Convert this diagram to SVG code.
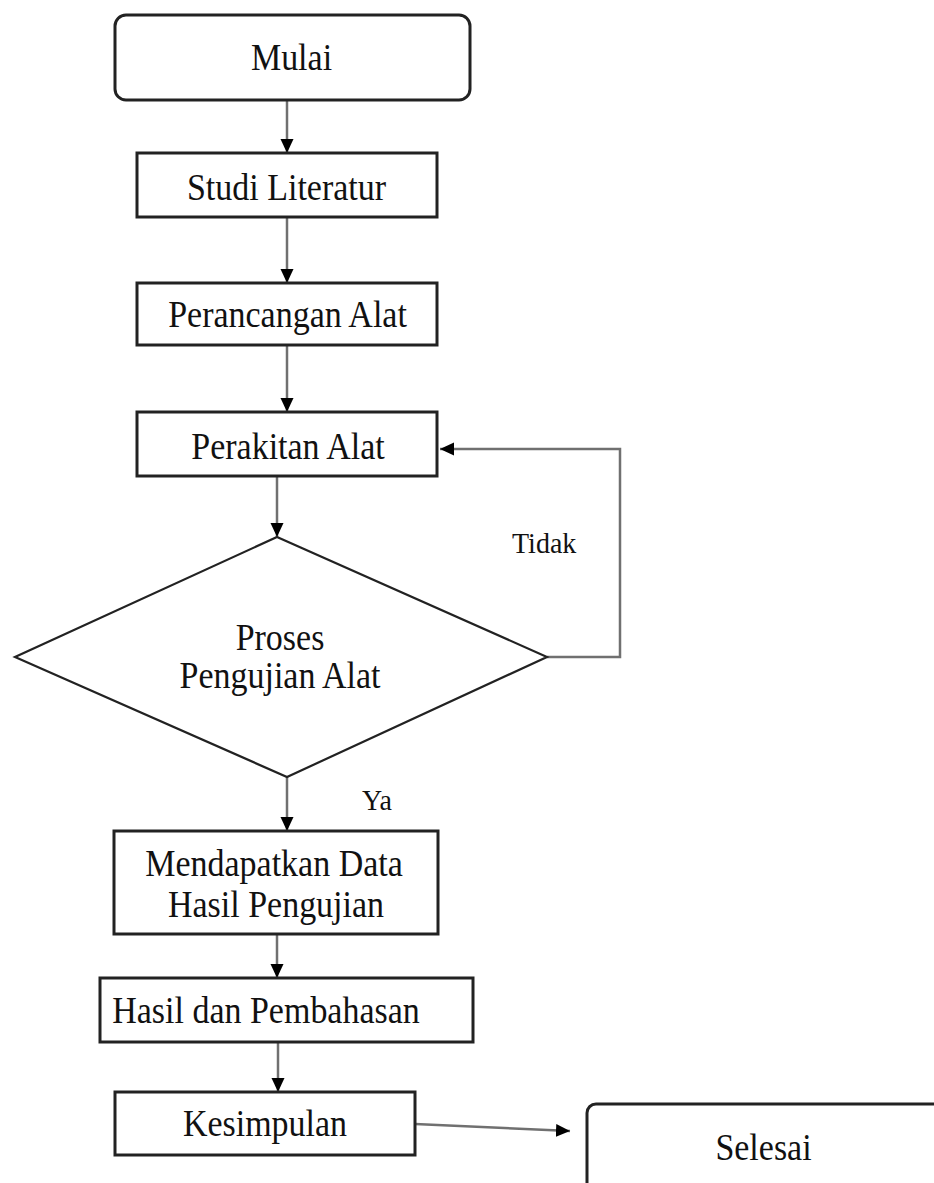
<svg xmlns="http://www.w3.org/2000/svg" width="934" height="1183" viewBox="0 0 934 1183">
<style>
.box{fill:#fff;stroke:#222;stroke-width:3}
.dia{fill:#fff;stroke:#222;stroke-width:2.2}
.t{font-family:"Liberation Serif","Times New Roman",serif;font-size:34px;fill:#111;text-anchor:middle}
.lbl{font-family:"Liberation Serif","Times New Roman",serif;font-size:28px;fill:#111}
.c{fill:none;stroke:#707070;stroke-width:2.5}
</style>
<defs>
<marker id="ah" markerUnits="userSpaceOnUse" markerWidth="16" markerHeight="16" viewBox="0 0 16 16" refX="14" refY="8" orient="auto">
<path d="M0,1.5 L14,8 L0,14.5 Z" fill="#000"/>
</marker>
</defs>
<rect width="934" height="1183" fill="#fff"/>
<g id="connectors">
<line class="c" x1="287" y1="100" x2="287" y2="153" marker-end="url(#ah)"/>
<line class="c" x1="287" y1="217" x2="287" y2="283" marker-end="url(#ah)"/>
<line class="c" x1="287" y1="345" x2="287" y2="412" marker-end="url(#ah)"/>
<line class="c" x1="277" y1="476" x2="277" y2="537" marker-end="url(#ah)"/>
<line class="c" x1="287" y1="777" x2="287" y2="831" marker-end="url(#ah)"/>
<line class="c" x1="277" y1="934" x2="277" y2="978" marker-end="url(#ah)"/>
<line class="c" x1="278" y1="1042" x2="278" y2="1092" marker-end="url(#ah)"/>
<line class="c" x1="415" y1="1124" x2="570" y2="1131" marker-end="url(#ah)"/>
<polyline class="c" points="547,657 620,657 620,449 440,449" marker-end="url(#ah)"/>
</g>
<g id="mulai">
<rect class="box" x="115" y="15" width="355" height="85" rx="11"/>
<text class="t" transform="translate(291.5,70) scale(1,1.12)">Mulai</text>
</g>
<g id="studi">
<rect class="box" x="137" y="153" width="300" height="64"/>
<text class="t" transform="translate(286.5,200) scale(1,1.12)">Studi Literatur</text>
</g>
<g id="perancangan">
<rect class="box" x="137" y="283" width="300" height="62"/>
<text class="t" transform="translate(287.5,327) scale(1,1.12)">Perancangan Alat</text>
</g>
<g id="perakitan">
<rect class="box" x="137" y="412" width="300" height="64"/>
<text class="t" transform="translate(288,459) scale(1,1.12)">Perakitan Alat</text>
</g>
<g id="pengujian">
<polygon class="dia" points="277,537 547,657 287,777 15,657"/>
<text class="t" transform="translate(280,650) scale(1,1.12)">Proses</text>
<text class="t" transform="translate(280,688) scale(1,1.12)">Pengujian Alat</text>
</g>
<g id="labels">
<text class="lbl" transform="translate(512,553) scale(1,1.08)">Tidak</text>
<text class="lbl" transform="translate(362,810) scale(1,1.08)">Ya</text>
</g>
<g id="mendapatkan">
<rect class="box" x="114" y="831" width="324" height="103"/>
<text class="t" transform="translate(274,876) scale(1,1.12)">Mendapatkan Data</text>
<text class="t" transform="translate(276,917) scale(1,1.12)">Hasil Pengujian</text>
</g>
<g id="hasil">
<rect class="box" x="100" y="978" width="373" height="64"/>
<text class="t" transform="translate(266,1023) scale(1,1.12)">Hasil dan Pembahasan</text>
</g>
<g id="kesimpulan">
<rect class="box" x="115" y="1092" width="300" height="63"/>
<text class="t" transform="translate(265,1136) scale(1,1.12)">Kesimpulan</text>
</g>
<g id="selesai">
<rect class="box" x="587" y="1104" width="400" height="120" rx="9"/>
<text class="t" transform="translate(763.5,1160) scale(1,1.12)">Selesai</text>
</g>
</svg>
